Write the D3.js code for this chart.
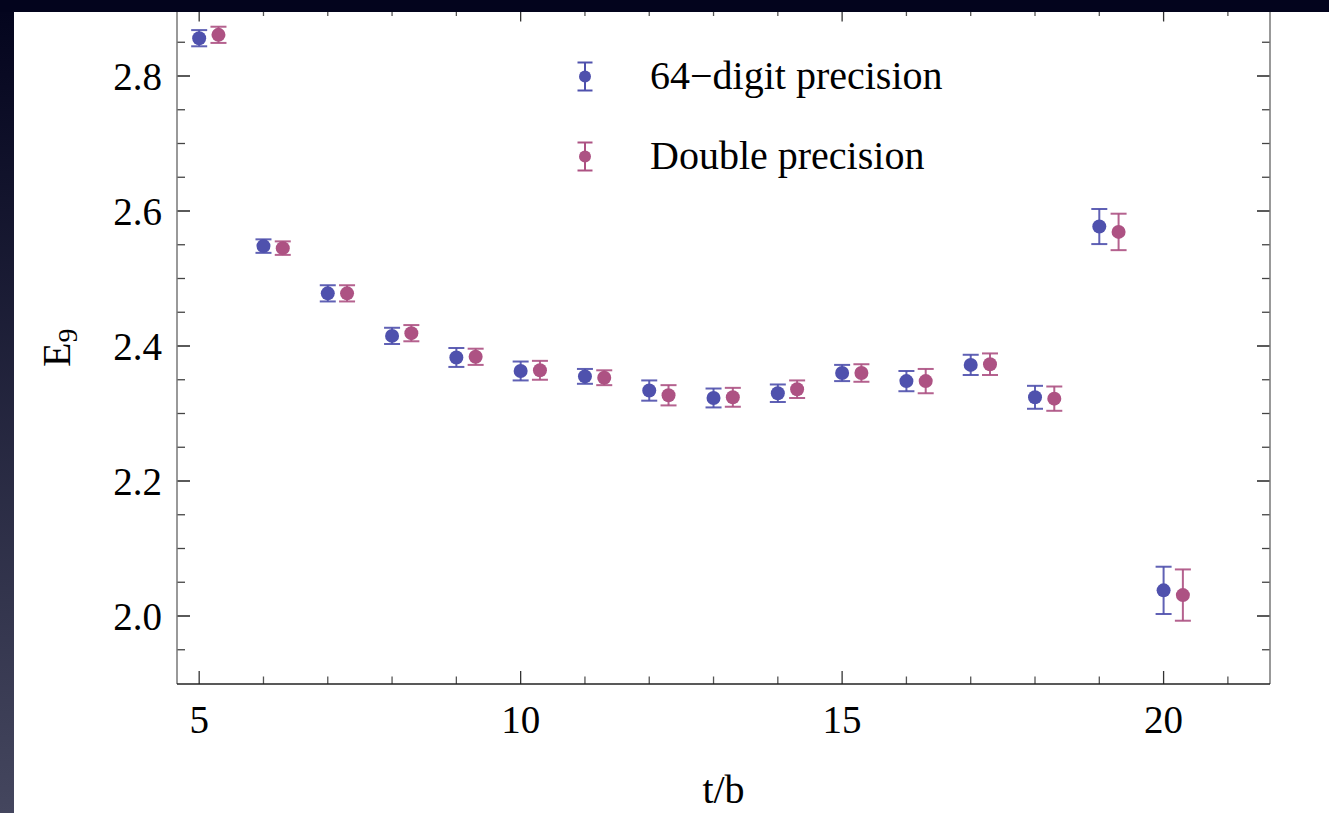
<!DOCTYPE html>
<meta charset="utf-8">

<style type="text/css">
  body {
    margin: 0;
    background: #ffffff;
  }

  .tick-label {
    font-family: "Liberation Serif", "Times New Roman", serif;
    font-size: 39px;
    fill: #000;
  }

  .legend-label {
    font-family: "Liberation Serif", "Times New Roman", serif;
    font-size: 40px;
    fill: #000;
  }
</style>

<body>
</body>

<script src="https://d3js.org/d3.v7.min.js"></script>
<script>
  // t/b values (the double precision series is drawn shifted by 0.3)
  var tValues = [5, 6, 7, 8, 9, 10, 11, 12, 13, 14, 15, 16, 17, 18, 19, 20];

  var e64 = [2.856, 2.548, 2.478, 2.415, 2.383, 2.363, 2.355, 2.334,
    2.323, 2.330, 2.360, 2.348, 2.372, 2.324, 2.577, 2.038];
  var err64 = [0.012, 0.010, 0.012, 0.012, 0.014, 0.014, 0.011, 0.015,
    0.014, 0.013, 0.012, 0.015, 0.015, 0.017, 0.026, 0.035];

  var eDouble = [2.861, 2.545, 2.478, 2.419, 2.384, 2.364, 2.353, 2.327,
    2.324, 2.336, 2.360, 2.348, 2.373, 2.322, 2.569, 2.031];
  var errDouble = [0.012, 0.010, 0.012, 0.012, 0.012, 0.014, 0.011, 0.015,
    0.014, 0.013, 0.013, 0.018, 0.016, 0.018, 0.027, 0.038];

  var xMajor = [5, 10, 15, 20];
  var yMajor = [2.0, 2.2, 2.4, 2.6, 2.8];
  var seriesNames = ["64\u2212digit precision", "Double precision"];

  var W = 1329,
    H = 813;
  var frame = {
    left: 177,
    right: 1270,
    top: 8.5,
    bottom: 684
  };

  var blue = "#4f51ad",
    pink = "#ad5283";

  var x = d3.scaleLinear().domain([4.655, 21.655]).range([frame.left, frame.right]);
  var y = d3.scaleLinear().domain([1.9, 2.9]).range([frame.bottom - 0.5, frame.top]);

  var svg = d3.select("body").append("svg")
    .attr("width", W)
    .attr("height", H);

  var defs = svg.append("defs");
  var grad = defs.append("linearGradient")
    .attr("id", "sideGrad")
    .attr("x1", 0).attr("y1", 0).attr("x2", 0).attr("y2", 1);
  grad.append("stop").attr("offset", "0%").attr("stop-color", "#03041d");
  grad.append("stop").attr("offset", "100%").attr("stop-color", "#44465e");

  svg.append("rect")
    .attr("width", W)
    .attr("height", H)
    .attr("fill", "#fff");

  var plot = svg.append("g");

  // minor / major ticks on all four sides
  var xMinor = d3.range(5, 22, 1);
  var yMinor = d3.range(0, 21).map(function(i) {
    return +(1.9 + i * 0.05).toFixed(2);
  }).filter(function(v) {
    return v > 1.9 && v < 2.9;
  });

  function isMajorX(v) {
    return xMajor.indexOf(v) >= 0;
  }

  function isMajorY(v) {
    return yMajor.some(function(m) {
      return Math.abs(m - v) < 1e-6;
    });
  }

  xMinor.forEach(function(v) {
    var len = isMajorX(v) ? 13 : 7.5;
    var col = isMajorX(v) ? "#333" : "#555";
    plot.append("line")
      .attr("x1", x(v)).attr("x2", x(v))
      .attr("y1", frame.bottom).attr("y2", frame.bottom - len)
      .attr("stroke", col).attr("stroke-width", 1.3);
    plot.append("line")
      .attr("x1", x(v)).attr("x2", x(v))
      .attr("y1", frame.top).attr("y2", frame.top + len)
      .attr("stroke", col).attr("stroke-width", 1.3);
  });

  yMinor.forEach(function(v) {
    var len = isMajorY(v) ? 13 : 8;
    var col = isMajorY(v) ? "#000" : "#444";
    plot.append("line")
      .attr("x1", frame.left).attr("x2", frame.left + len)
      .attr("y1", y(v)).attr("y2", y(v))
      .attr("stroke", col).attr("stroke-width", 1.3);
    plot.append("line")
      .attr("x1", frame.right).attr("x2", frame.right - len)
      .attr("y1", y(v)).attr("y2", y(v))
      .attr("stroke", col).attr("stroke-width", 1.3);
  });

  // frame
  plot.append("line")
    .attr("x1", frame.left).attr("x2", frame.left)
    .attr("y1", frame.top).attr("y2", frame.bottom)
    .attr("stroke", "#777").attr("stroke-width", 1.5);
  plot.append("line")
    .attr("x1", frame.right).attr("x2", frame.right)
    .attr("y1", frame.top).attr("y2", frame.bottom)
    .attr("stroke", "#777").attr("stroke-width", 1.5);
  plot.append("line")
    .attr("x1", frame.left).attr("x2", frame.right)
    .attr("y1", frame.bottom).attr("y2", frame.bottom)
    .attr("stroke", "#222").attr("stroke-width", 1.5);
  plot.append("line")
    .attr("x1", frame.left).attr("x2", frame.right)
    .attr("y1", frame.top).attr("y2", frame.top)
    .attr("stroke", "#777").attr("stroke-width", 1.5);

  // tick labels
  plot.selectAll(".xlab")
    .data(xMajor)
    .enter().append("text")
    .attr("class", "tick-label")
    .attr("x", function(d) {
      return x(d);
    })
    .attr("y", 733)
    .attr("text-anchor", "middle")
    .text(function(d) {
      return d;
    });

  plot.selectAll(".ylab")
    .data(yMajor)
    .enter().append("text")
    .attr("class", "tick-label")
    .attr("x", 162)
    .attr("y", function(d) {
      return y(d) + 13.5;
    })
    .attr("text-anchor", "end")
    .text(function(d) {
      return d.toFixed(1);
    });

  // axis labels
  plot.append("text")
    .attr("class", "legend-label")
    .attr("x", (frame.left + frame.right) / 2)
    .attr("y", 803)
    .attr("text-anchor", "middle")
    .text("t/b");

  var ylab = plot.append("text")
    .attr("class", "legend-label")
    .attr("transform", "translate(70,367) rotate(-90)")
    .attr("text-anchor", "start");
  ylab.append("tspan").text("E");
  ylab.append("tspan")
    .attr("dy", 7)
    .style("font-size", "28px")
    .text("9");

  // error bar series
  function drawSeries(values, errs, shift, color) {
    var g = plot.append("g");
    var pts = tValues.map(function(t, i) {
      return {
        t: t + shift,
        v: values[i],
        e: errs[i]
      };
    });

    g.selectAll(".bar")
      .data(pts)
      .enter().append("line")
      .attr("x1", function(d) {
        return x(d.t);
      })
      .attr("x2", function(d) {
        return x(d.t);
      })
      .attr("y1", function(d) {
        return y(d.v - d.e);
      })
      .attr("y2", function(d) {
        return y(d.v + d.e);
      })
      .attr("stroke", color).attr("stroke-width", 2).attr("opacity", 0.9);

    [-1, 1].forEach(function(sgn) {
      g.selectAll(".cap" + sgn)
        .data(pts)
        .enter().append("line")
        .attr("x1", function(d) {
          return x(d.t) - 8;
        })
        .attr("x2", function(d) {
          return x(d.t) + 8;
        })
        .attr("y1", function(d) {
          return y(d.v + sgn * d.e);
        })
        .attr("y2", function(d) {
          return y(d.v + sgn * d.e);
        })
        .attr("stroke", color).attr("stroke-width", 2).attr("opacity", 0.9);
    });

    g.selectAll("circle")
      .data(pts)
      .enter().append("circle")
      .attr("cx", function(d) {
        return x(d.t);
      })
      .attr("cy", function(d) {
        return y(d.v);
      })
      .attr("r", 7)
      .attr("fill", color);
  }

  drawSeries(e64, err64, 0, blue);
  drawSeries(eDouble, errDouble, 0.3, pink);

  // legend
  var legend = plot.append("g");
  [blue, pink].forEach(function(c, i) {
    var cy = 76.5 + i * 80,
      cx = 585;
    legend.append("line")
      .attr("x1", cx).attr("x2", cx)
      .attr("y1", cy - 14).attr("y2", cy + 14)
      .attr("stroke", c).attr("stroke-width", 2);
    [-14, 14].forEach(function(o) {
      legend.append("line")
        .attr("x1", cx - 7.5).attr("x2", cx + 7.5)
        .attr("y1", cy + o).attr("y2", cy + o)
        .attr("stroke", c).attr("stroke-width", 2);
    });
    legend.append("circle")
      .attr("cx", cx).attr("cy", cy).attr("r", 6)
      .attr("fill", c);
    legend.append("text")
      .attr("class", "legend-label")
      .attr("x", 650)
      .attr("y", cy + 12.5)
      .text(seriesNames[i]);
  });

  // dark border bands (top and left)
  svg.append("rect")
    .attr("x", 0).attr("y", 0)
    .attr("width", 14).attr("height", H)
    .attr("fill", "url(#sideGrad)");
  svg.append("rect")
    .attr("x", 0).attr("y", 0)
    .attr("width", W).attr("height", 12)
    .attr("fill", "#03041d");
</script>
